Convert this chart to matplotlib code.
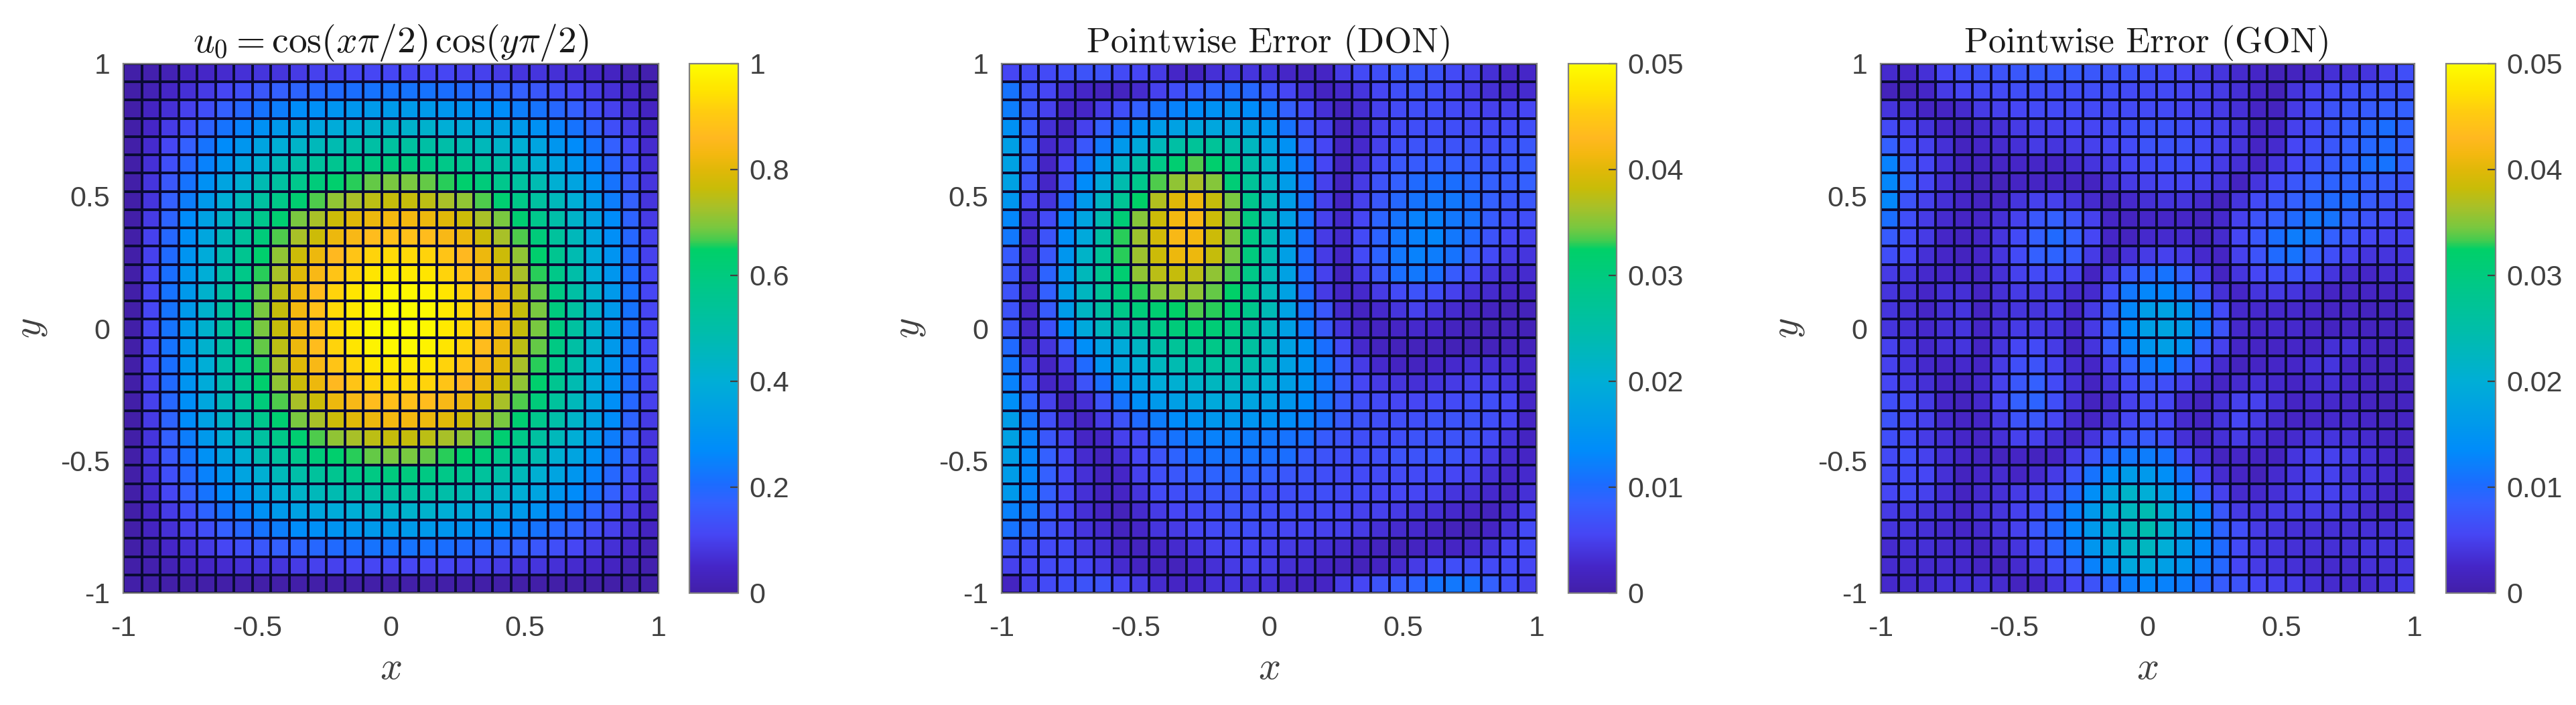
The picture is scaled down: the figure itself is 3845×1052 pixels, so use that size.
import numpy as np
import matplotlib
matplotlib.use("Agg")
import matplotlib.pyplot as plt
from matplotlib.colors import LinearSegmentedColormap

# ---- data: cell values, rows from top (y=1) to bottom (y=-1) ----
U0_PERCENT = [
[0,1,2,4,5,6,7,8,8,9,10,10,11,11,11,11,11,11,10,10,9,8,8,7,6,5,4,2,1],
[0,2,5,7,9,11,13,15,17,18,19,20,21,22,22,22,22,21,20,19,18,17,15,13,11,9,7,5,2],
[0,4,7,10,13,17,19,22,24,27,28,30,31,32,32,32,32,31,30,28,27,24,22,19,17,13,10,7,4],
[0,5,9,13,18,22,25,29,32,35,37,39,40,42,42,42,42,40,39,37,35,32,29,25,22,18,13,9,5],
[0,6,11,17,22,27,31,36,40,43,46,48,50,51,52,52,51,50,48,46,43,40,36,31,27,22,17,11,6],
[0,7,13,19,25,31,36,41,46,50,53,56,58,59,60,60,59,58,56,53,50,46,41,36,31,25,19,13,7],
[0,8,15,22,29,36,41,48,52,57,61,64,66,68,69,69,68,66,64,61,57,52,48,41,36,29,22,15,8],
[0,8,17,24,32,40,46,52,58,63,67,71,73,75,76,76,75,73,71,67,63,58,52,46,40,32,24,17,8],
[0,9,18,27,35,43,50,57,63,69,73,77,80,82,83,83,82,80,77,73,69,63,57,50,43,35,27,18,9],
[0,10,19,28,37,46,53,61,67,73,77,82,84,87,88,88,87,84,82,77,73,67,61,53,46,37,28,19,10],
[0,10,20,30,39,48,56,64,71,77,82,86,89,92,93,93,92,89,86,82,77,71,64,56,48,39,30,20,10],
[0,11,21,31,40,50,58,66,73,80,84,89,92,95,96,96,95,92,89,84,80,73,66,58,50,40,31,21,11],
[0,11,22,32,42,51,59,68,75,82,87,92,95,98,99,99,98,95,92,87,82,75,68,59,51,42,32,22,11],
[0,11,22,32,42,52,60,69,76,83,88,93,96,99,100,100,99,96,93,88,83,76,69,60,52,42,32,22,11],
[0,11,22,32,42,52,60,69,76,83,88,93,96,99,100,100,99,96,93,88,83,76,69,60,52,42,32,22,11],
[0,11,22,32,42,51,59,68,75,82,87,92,95,98,99,99,98,95,92,87,82,75,68,59,51,42,32,22,11],
[0,11,21,31,40,50,58,66,73,80,84,89,92,95,96,96,95,92,89,84,80,73,66,58,50,40,31,21,11],
[0,10,20,30,39,48,56,64,71,77,82,86,89,92,93,93,92,89,86,82,77,71,64,56,48,39,30,20,10],
[0,10,19,28,37,46,53,61,67,73,77,82,84,87,88,88,87,84,82,77,73,67,61,53,46,37,28,19,10],
[0,9,18,27,35,43,50,57,63,69,73,77,80,82,83,83,82,80,77,73,69,63,57,50,43,35,27,18,9],
[0,8,17,24,32,40,46,52,58,63,67,71,73,75,76,76,75,73,71,67,63,58,52,46,40,32,24,17,8],
[0,8,15,22,29,36,41,48,52,57,61,64,66,68,69,69,68,66,64,61,57,52,48,41,36,29,22,15,8],
[0,7,13,19,25,31,36,41,46,50,53,56,58,59,60,60,59,58,56,53,50,46,41,36,31,25,19,13,7],
[0,6,11,17,22,27,31,36,40,43,46,48,50,51,52,52,51,50,48,46,43,40,36,31,27,22,17,11,6],
[0,5,9,13,18,22,25,29,32,35,37,39,40,42,42,42,42,40,39,37,35,32,29,25,22,18,13,9,5],
[0,4,7,10,13,17,19,22,24,27,28,30,31,32,32,32,32,31,30,28,27,24,22,19,17,13,10,7,4],
[0,2,5,7,9,11,13,15,17,18,19,20,21,22,22,22,22,21,20,19,18,17,15,13,11,9,7,5,2],
[0,1,2,4,5,6,7,8,8,9,10,10,11,11,11,11,11,11,10,10,9,8,8,7,6,5,4,2,1],
[0,0,0,0,0,0,0,0,0,0,0,0,0,0,0,0,0,0,0,0,0,0,0,0,0,0,0,0,0],
]

# errors in units of 1e-4
ERR_DON = [
[55,60,60,65,70,70,60,55,45,25,20,35,40,40,35,25,18,22,45,60,65,75,75,70,60,50,35,25,25],
[110,70,55,35,25,18,18,30,50,65,80,90,100,95,75,55,35,20,28,40,55,65,70,65,55,45,35,28,30],
[120,75,50,22,25,45,65,85,110,125,135,145,150,135,120,85,60,35,18,32,50,60,65,65,60,55,50,50,55],
[145,80,35,20,50,85,115,145,165,175,185,185,180,170,150,110,70,50,18,28,50,60,65,65,65,60,60,60,65],
[170,85,28,35,75,115,160,190,230,255,270,270,250,225,180,145,85,55,20,28,50,65,70,70,70,70,65,70,75],
[175,80,22,55,105,160,210,250,290,315,335,320,295,250,210,150,105,55,18,35,60,75,80,85,85,80,75,75,80],
[175,70,25,70,135,190,245,285,335,355,365,350,310,270,220,165,110,50,20,45,70,85,100,105,105,95,85,80,85],
[155,55,40,100,160,220,275,325,370,400,410,380,345,285,225,165,110,50,22,50,75,95,110,115,115,105,85,75,75],
[130,35,60,130,180,240,310,350,385,415,420,385,350,295,235,170,110,50,28,55,90,110,125,125,115,110,80,65,65],
[115,25,70,140,190,255,330,360,390,420,415,385,350,295,240,170,105,45,30,60,90,115,125,130,115,100,70,55,50],
[80,22,75,155,215,270,330,360,385,410,410,380,345,300,240,170,100,45,25,60,90,115,125,120,110,85,60,45,40],
[75,22,90,165,230,280,315,355,375,380,375,355,335,290,235,175,100,50,18,45,75,105,115,105,80,60,40,30,30],
[70,22,85,170,225,270,305,330,350,360,355,340,325,285,230,175,100,45,25,28,45,60,70,65,50,35,30,22,22],
[70,25,80,165,220,255,290,305,315,325,335,330,315,285,235,175,110,75,30,20,28,40,50,40,30,22,18,15,15],
[75,25,65,140,190,225,245,270,290,305,310,310,295,265,220,170,120,80,40,22,20,22,28,25,18,15,15,15,12],
[100,30,40,85,140,175,195,220,250,270,280,290,280,260,225,175,145,105,60,28,18,15,15,15,12,12,15,15,15],
[115,45,22,45,100,150,185,200,225,240,250,260,255,245,220,175,150,115,75,45,28,20,18,22,28,35,35,30,22],
[125,65,25,28,70,105,155,175,195,205,215,225,225,215,200,170,150,115,80,55,45,40,35,40,45,50,50,40,22],
[140,90,50,20,35,70,110,140,160,170,180,190,190,180,170,155,135,110,80,65,60,55,55,60,60,65,65,55,25],
[165,110,65,35,20,45,70,100,120,135,145,155,155,150,145,135,125,105,80,70,65,65,65,70,70,70,65,55,22],
[175,125,75,50,22,25,50,60,100,110,120,125,125,120,115,110,105,80,70,65,65,65,70,70,70,70,60,40,20],
[170,130,85,55,30,18,35,55,70,90,105,110,110,110,105,105,80,70,65,65,65,70,70,75,70,60,45,30,22],
[165,130,85,55,35,18,25,50,65,75,85,90,95,90,85,75,70,65,60,60,60,60,60,60,55,50,35,25,28],
[160,125,85,55,35,20,22,40,60,65,70,75,75,70,65,65,65,65,60,60,55,55,55,50,40,35,28,22,35],
[125,115,80,55,35,22,15,30,45,55,60,65,70,70,65,65,60,60,55,50,50,45,40,35,28,22,18,30,50],
[110,95,70,55,40,30,18,25,40,45,55,60,65,65,60,55,55,50,50,45,35,30,28,20,15,12,22,40,60],
[70,65,60,60,45,35,22,18,25,30,40,50,55,55,50,45,40,35,30,22,18,12,20,25,22,28,40,55,60],
[50,55,60,60,55,45,30,20,18,15,25,35,45,50,45,35,30,22,18,15,20,30,45,60,65,65,60,60,55],
[20,50,60,65,70,70,55,45,30,22,25,35,40,35,35,25,18,22,45,55,70,80,90,110,115,110,85,65,50],
]

ERR_GON = [
[30,25,35,55,65,70,70,75,80,80,80,75,70,70,65,60,55,45,40,30,25,15,18,22,35,35,40,50,65],
[15,15,25,45,55,60,60,65,65,65,65,65,65,60,60,60,55,50,45,35,25,15,40,50,60,65,70,70,70],
[40,35,22,22,30,45,50,55,60,60,60,60,60,60,60,60,55,50,45,35,22,18,45,60,70,75,80,85,85],
[60,50,40,25,18,30,35,45,50,50,55,55,60,65,70,70,65,60,50,40,22,25,50,60,75,85,95,105,90],
[85,60,50,35,18,25,30,35,45,40,45,50,55,60,70,70,70,60,50,40,22,30,55,65,75,85,95,100,85],
[125,70,55,35,20,20,22,25,25,22,30,40,45,55,60,65,65,60,45,35,22,40,55,70,80,90,105,110,85],
[130,85,55,35,20,15,15,22,22,22,20,20,35,45,50,55,55,50,40,20,40,60,75,85,90,90,85,80,70],
[130,70,50,35,25,20,25,40,50,50,40,30,18,28,35,40,40,30,18,40,60,75,85,95,100,100,80,70,60],
[105,65,45,30,22,25,35,50,75,85,70,50,25,20,25,25,25,18,28,50,70,85,100,115,110,85,70,60,50],
[80,60,45,25,20,25,40,60,85,100,85,55,25,18,28,30,30,18,30,55,75,105,120,115,85,70,55,50,50],
[65,55,35,25,18,25,40,60,85,90,80,45,20,35,45,50,45,28,22,50,70,100,110,85,65,50,40,40,40],
[45,40,28,25,22,22,35,50,60,60,50,20,45,75,95,110,85,50,20,40,55,65,70,60,40,30,25,30,30],
[40,35,25,35,35,22,35,45,45,45,30,30,65,115,130,130,115,75,35,25,40,45,40,30,22,22,22,22,22],
[40,35,25,35,40,22,35,40,40,45,25,45,80,130,165,175,155,115,60,28,28,28,28,25,22,22,18,18,18],
[40,35,28,35,40,25,35,45,45,40,25,45,85,135,170,180,165,120,70,28,25,28,28,22,20,22,18,18,15],
[50,40,28,35,40,22,40,55,60,45,20,40,80,125,155,170,150,85,50,25,22,22,25,22,35,35,22,15,18],
[50,40,28,22,28,22,45,65,70,50,30,25,50,85,115,125,90,55,30,18,22,25,25,35,40,25,18,15,15],
[55,45,35,22,18,28,50,75,85,60,35,20,40,60,75,65,50,30,22,30,35,28,22,30,35,25,20,15,15],
[65,60,45,25,18,28,55,85,90,65,35,18,30,50,60,55,30,18,35,50,50,35,22,28,28,25,20,15,18],
[70,60,50,30,22,25,45,70,75,55,30,22,40,55,65,55,30,22,40,55,45,30,22,25,28,28,25,18,20],
[65,60,45,35,25,22,35,50,50,35,22,40,65,75,80,65,35,20,35,45,35,25,30,40,40,35,30,20,18],
[60,65,50,35,25,20,18,22,18,22,45,70,100,115,120,110,60,35,18,25,22,20,40,50,50,45,35,25,15],
[60,60,55,35,18,25,30,22,30,45,70,110,140,165,160,140,110,55,30,22,15,30,40,50,50,40,35,28,18],
[55,60,50,35,20,30,35,45,50,70,100,140,180,215,200,175,135,85,50,30,28,35,45,50,50,45,35,25,20],
[45,45,40,35,25,35,40,50,65,95,125,160,200,225,240,205,170,130,75,45,40,45,45,45,45,40,30,25,28],
[40,40,35,30,25,30,40,50,75,100,130,160,195,225,245,210,170,130,90,65,45,40,35,35,35,35,35,35,40],
[30,35,35,30,28,22,30,40,60,90,120,155,185,215,225,200,165,130,100,60,45,40,35,35,35,35,40,40,40],
[30,30,30,30,28,22,18,30,45,65,85,125,155,185,190,170,155,120,95,55,45,40,35,30,30,30,35,35,40],
[28,30,30,35,35,35,30,18,22,40,55,70,90,120,130,125,120,100,80,70,55,50,45,35,30,28,30,35,45],
]

TITLES = [r"$u_0=\cos(x\pi/2)\,\cos(y\pi/2)$", "Pointwise Error (DON)", "Pointwise Error (GON)"]
AXIS_TICKS = [-1, -0.5, 0, 0.5, 1]
AXIS_TICK_LABELS = ["-1", "-0.5", "0", "0.5", "1"]
CB_TICKS_U = [0, 0.2, 0.4, 0.6, 0.8, 1]
CB_LABELS_U = ["0", "0.2", "0.4", "0.6", "0.8", "1"]
CB_TICKS_E = [0, 0.01, 0.02, 0.03, 0.04, 0.05]
CB_LABELS_E = ["0", "0.01", "0.02", "0.03", "0.04", "0.05"]

# ---- style ----
plt.rcParams["mathtext.fontset"] = "cm"
plt.rcParams["font.family"] = ["Liberation Sans", "DejaVu Sans"]
W, H = 3845, 1052
TEXT = "#404040"
cmap = LinearSegmentedColormap.from_list("bar", [
    (0.00, "#421fa8"), (0.05, "#4526c8"), (0.11, "#4646f4"), (0.17, "#3460ff"),
    (0.205, "#1c6cff"), (0.27, "#008cfa"), (0.33, "#009ce8"), (0.40, "#00aed6"),
    (0.50, "#00bea8"), (0.58, "#00c888"), (0.65, "#00d068"), (0.665, "#40cc50"),
    (0.69, "#78c840"), (0.73, "#a8c028"), (0.765, "#c8bc08"), (0.80, "#e0b808"),
    (0.83, "#f4b810"), (0.86, "#ffb820"), (0.91, "#ffcc10"), (0.95, "#ffe400"), (1.00, "#fdfd00"),
], N=512)

def box(x0, x1, y0=95, y1=885):
    return [x0 / W, 1 - y1 / H, (x1 - x0) / W, (y1 - y0) / H]

fig = plt.figure(figsize=(W / 100, H / 100), dpi=100, facecolor="white")
panels = [
    (np.array(U0_PERCENT) / 100, 1.0, box(184, 983), box(1029, 1102), CB_TICKS_U, CB_LABELS_U),
    (np.array(ERR_DON) * 1e-4, 0.05, box(1495, 2294), box(2341, 2413), CB_TICKS_E, CB_LABELS_E),
    (np.array(ERR_GON) * 1e-4, 0.05, box(2807, 3604), box(3651, 3725), CB_TICKS_E, CB_LABELS_E),
]
edges = np.linspace(-1, 1, 30)
for (z, vmax, rect, crect, cticks, clabels), title in zip(panels, TITLES):
    ax = fig.add_axes(rect)
    m = ax.pcolormesh(edges, edges, z[::-1], cmap=cmap, vmin=0, vmax=vmax,
                      edgecolors="#0a0a35", linewidth=1.6)
    ax.set_xlim(-1, 1)
    ax.set_ylim(-1, 1)
    ax.set_xticks(AXIS_TICKS, AXIS_TICK_LABELS)
    ax.set_yticks(AXIS_TICKS, AXIS_TICK_LABELS)
    ax.tick_params(length=0, labelsize=31, labelcolor=TEXT, pad=14)
    ax.tick_params(axis="x", pad=24)
    for s in ax.spines.values():
        s.set_color("#808080")
        s.set_linewidth(1.6)
    ax.set_xlabel("$x$", fontsize=42, color=TEXT, labelpad=9)
    ax.set_ylabel("$y$", fontsize=42, color=TEXT, labelpad=13)
    if title.startswith("$"):
        ax.set_title(title, fontsize=40, color="#1a1a1a", pad=12)
    else:
        ax.set_title(title, fontsize=38, family="cmr10", color="#1a1a1a", pad=12)
    cax = fig.add_axes(crect)
    cb = fig.colorbar(m, cax=cax)
    cb.set_ticks(cticks, labels=clabels)
    cax.tick_params(direction="in", length=9, width=1.6, color="#404040",
                    labelsize=31, labelcolor=TEXT, pad=12)
    cb.outline.set_edgecolor("#808080")
    cb.outline.set_linewidth(1.6)

fig.savefig("out.png", dpi=100, facecolor="white")
